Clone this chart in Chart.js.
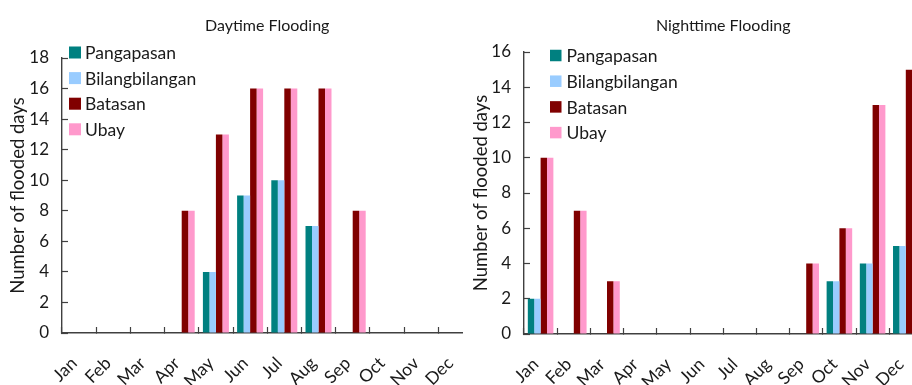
<!DOCTYPE html>
<html>
<head>
<meta charset="utf-8">
<script src="https://cdn.jsdelivr.net/npm/chart.js@4/dist/chart.umd.min.js"></script>
<style>
  html, body { margin: 0; padding: 0; background: #fff; overflow: hidden; }
  body { width: 912px; height: 385px; position: relative; }
  .panel { position: absolute; top: 0; height: 385px; overflow: hidden; }
  #dayPanel { left: 0; width: 463px; }
  #nightPanel { left: 460px; width: 452px; }
  canvas { display: block; }
</style>
</head>
<body>
<div class="panel" id="dayPanel"><canvas id="dayChart" width="480" height="385"></canvas></div>
<div class="panel" id="nightPanel"><canvas id="nightChart" width="470" height="385"></canvas></div>
<script>
// Months along the x axis
const months = ['Jan', 'Feb', 'Mar', 'Apr', 'May', 'Jun', 'Jul', 'Aug', 'Sep', 'Oct', 'Nov', 'Dec'];

// Barangays and their colours
const sites = ['Pangapasan', 'Bilangbilangan', 'Batasan', 'Ubay'];
const siteColors = ['#008080', '#99CCFF', '#800000', '#FF99CC'];

// Number of flooded days per month - daytime
const dayPangapasan     = [0, 0, 0, 0, 4, 9, 10, 7, 0, 0, 0, 0];
const dayBilangbilangan = [0, 0, 0, 0, 4, 9, 10, 7, 0, 0, 0, 0];
const dayBatasan        = [0, 0, 0, 8, 13, 16, 16, 16, 8, 0, 0, 0];
const dayUbay           = [0, 0, 0, 8, 13, 16, 16, 16, 8, 0, 0, 0];

// Number of flooded days per month - nighttime
const nightPangapasan     = [2, 0, 0, 0, 0, 0, 0, 0, 0, 3, 4, 5];
const nightBilangbilangan = [2, 0, 0, 0, 0, 0, 0, 0, 0, 3, 4, 5];
const nightBatasan        = [10, 7, 3, 0, 0, 0, 0, 0, 4, 6, 13, 15];
const nightUbay           = [10, 7, 3, 0, 0, 0, 0, 0, 4, 6, 13, 15];

const FONT = 'Lato, "Liberation Sans", sans-serif';
const INK = '#1a1a1a';
const AXIS = '#404040';

// Vertical legend drawn near the top-left corner of the plot
const sideLegend = {
  id: 'sideLegend',
  afterDraw(chart, args, opts) {
    const ctx = chart.ctx;
    ctx.save();
    ctx.font = opts.size + 'px ' + FONT;
    ctx.textBaseline = 'middle';
    ctx.textAlign = 'left';
    chart.data.datasets.forEach((ds, i) => {
      const cy = opts.y + i * opts.step;
      ctx.fillStyle = ds.backgroundColor;
      ctx.fillRect(opts.x, cy - opts.box / 2, opts.box, opts.box);
      ctx.fillStyle = INK;
      ctx.fillText(ds.label, opts.x + opts.box + opts.gap, cy + 1);
    });
    ctx.restore();
  }
};

function makeChart(id, title, series, yMax, cfg) {
  return new Chart(document.getElementById(id), {
    type: 'bar',
    data: {
      labels: months,
      datasets: series.map((vals, i) => ({
        label: sites[i],
        data: vals,
        backgroundColor: siteColors[i],
        borderWidth: 0,
        barPercentage: 1.0,
        categoryPercentage: cfg.catPct
      }))
    },
    options: {
      responsive: false,
      animation: false,
      layout: { padding: { left: 0, right: cfg.padRight, top: 0, bottom: 0 } },
      plugins: {
        legend: { display: false },
        tooltip: { enabled: false },
        title: {
          display: true,
          text: title,
          fullSize: false,
          color: INK,
          font: { family: FONT, size: 16, weight: 'normal' },
          padding: { top: 16, bottom: cfg.titleBottom }
        },
        sideLegend: cfg.legend
      },
      scales: {
        x: {
          grid: {
            drawOnChartArea: false,
            drawTicks: true,
            tickLength: -6,
            tickColor: AXIS,
            tickWidth: 1.2,
            offset: true
          },
          border: { display: true, color: AXIS, width: 1.6 },
          ticks: {
            color: INK,
            font: { family: FONT, size: 17.5 },
            minRotation: 45,
            maxRotation: 45,
            autoSkip: false,
            labelOffset: -5,
            padding: 26
          },
          afterFit(scale) {
            scale.height = cfg.xHeight;
            scale.paddingLeft = 0;
            scale.paddingRight = 0;
          }
        },
        y: {
          min: 0,
          max: yMax,
          ticks: {
            stepSize: 2,
            color: INK,
            font: { family: FONT, size: 17 },
            padding: 19
          },
          grid: {
            drawOnChartArea: false,
            drawTicks: true,
            tickLength: -6,
            tickColor: AXIS,
            tickWidth: 1.2
          },
          border: { display: true, color: AXIS, width: 1.4 },
          title: {
            display: true,
            text: 'Number of flooded days',
            color: INK,
            font: { family: FONT, size: 18.5 },
            padding: { top: cfg.yTitleTop, bottom: 0 }
          },
          afterFit(scale) {
            scale.width = cfg.yWidth;
            scale.paddingTop = 0;
            scale.paddingBottom = 0;
          }
        }
      }
    },
    plugins: [sideLegend]
  });
}

makeChart('dayChart', 'Daytime Flooding',
  [dayPangapasan, dayBilangbilangan, dayBatasan, dayUbay], 18,
  { catPct: 0.76, padRight: 7.6, titleBottom: 22.8, xHeight: 52, yWidth: 62, yTitleTop: 7,
    legend: { x: 69, y: 52.5, step: 25.6, box: 12, gap: 4, size: 17.5 } });

makeChart('nightChart', 'Nighttime Flooding',
  [nightPangapasan, nightBilangbilangan, nightBatasan, nightUbay], 16,
  { catPct: 0.77, padRight: 7.6, titleBottom: 16.8, xHeight: 51, yWidth: 64, yTitleTop: 9.5,
    legend: { x: 90, y: 55.5, step: 25.7, box: 11.5, gap: 5, size: 17.5 } });
</script>
</body>
</html>
